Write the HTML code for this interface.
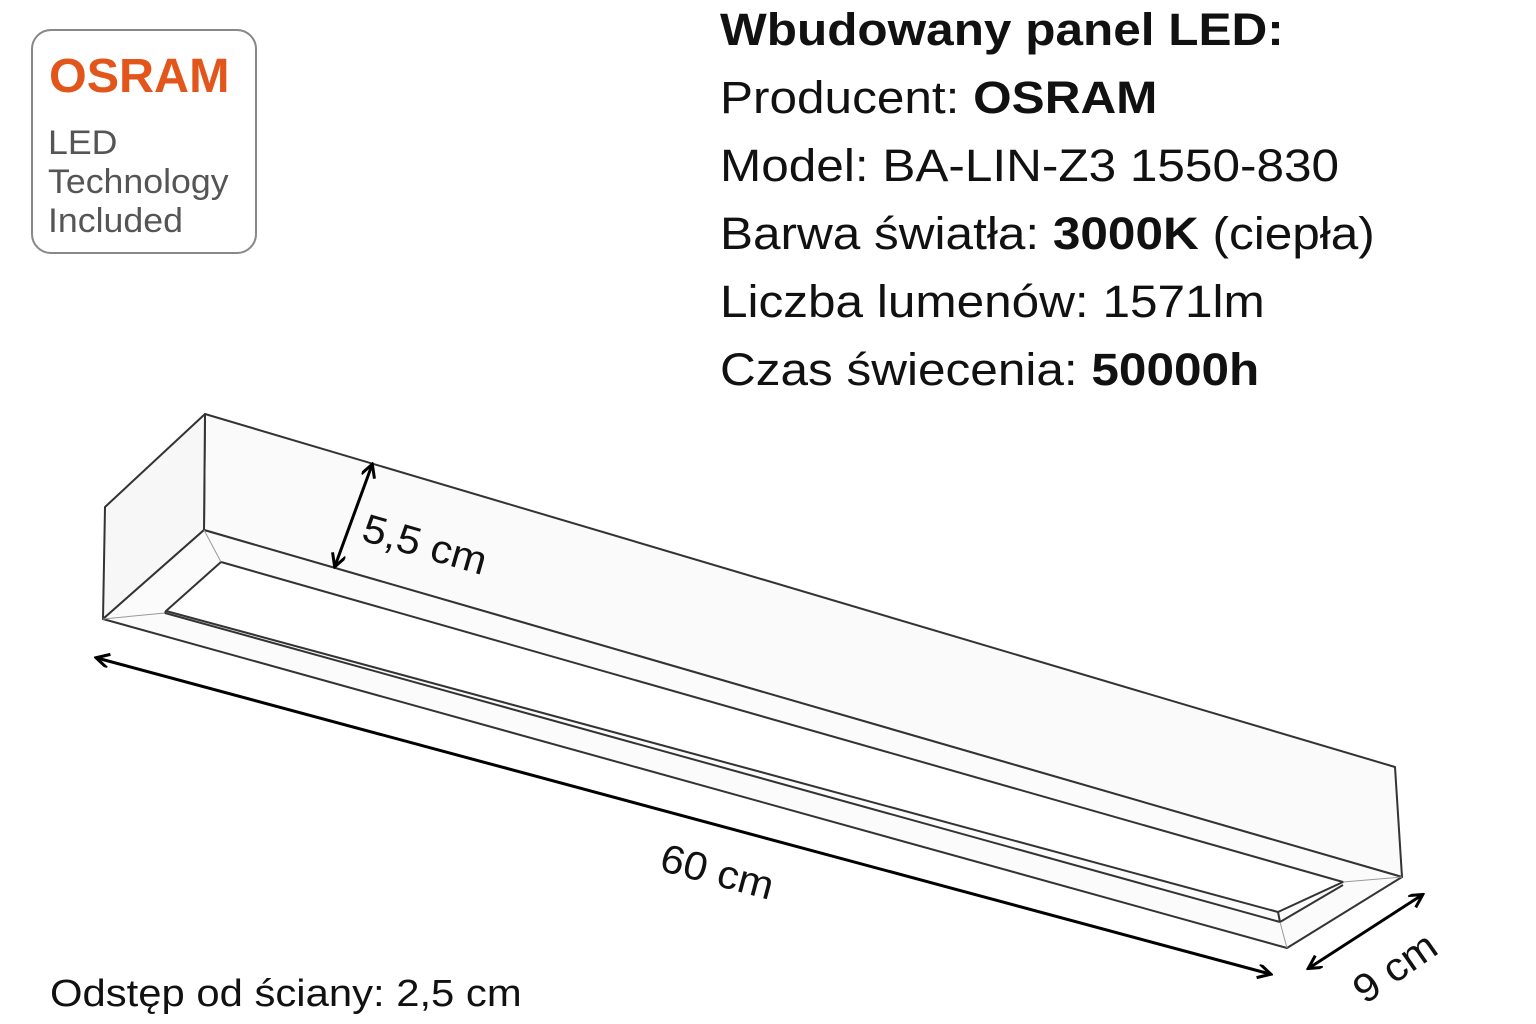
<!DOCTYPE html>
<html><head><meta charset="utf-8"><style>
body{margin:0;width:1536px;height:1024px;background:#fff;overflow:hidden;position:relative;font-family:"Liberation Sans","DejaVu Sans",sans-serif;}
.logo{position:absolute;left:31px;top:29px;width:226px;height:225px;border:2px solid #888;border-radius:20px;box-sizing:border-box;}
.t{position:absolute;white-space:nowrap;transform-origin:0 0;}
</style></head><body>
<div class="logo"></div>
<div class="t" style="left:49px;top:49px;font-size:48px;font-weight:bold;color:#e2561b;transform:scaleX(1.01)">OSRAM</div>
<div class="t" style="left:48px;top:124px;font-size:34px;line-height:39px;color:#555;transform:scaleX(1.05)">LED<br>Technology<br>Included</div>
<div class="t" style="left:720px;top:-4px;font-size:45px;line-height:68px;color:#111;transform:scaleX(1.1)">
<b>Wbudowany panel LED:</b><br>Producent: <b>OSRAM</b><br>Model: BA-LIN-Z3 1550-830<br>Barwa światła: <b>3000K</b> (ciepła)<br>Liczba lumenów: 1571lm<br>Czas świecenia: <b>50000h</b></div>
<div class="t" style="left:50px;top:973px;font-size:38px;color:#111;transform:scaleX(1.1)">Odstęp od ściany: 2,5 cm</div>
<svg width="1536" height="1024" style="position:absolute;left:0;top:0">
<defs><marker id="a" markerWidth="16" markerHeight="16" refX="13" refY="7" orient="auto-start-reverse" markerUnits="userSpaceOnUse"><path d="M1,0 L14,7 L1,14" fill="none" stroke="#000" stroke-width="3"/></marker></defs>
<g fill="none" stroke="#333" stroke-width="2" stroke-linejoin="round">
<polygon points="205,414 1395,767 1402,877 204,530" fill="#fafafa"/>
<polygon points="205,414 105,507 103,619 204,530" fill="#f7f7f7"/>
<polygon points="204,530 1402,877 1287,948 103,619" fill="#fbfbfb"/>
<polygon points="221,562 1343,882 1278,912 166,611" fill="#fff"/>
<polyline points="166,611 165,613 1280,922 1278,912"/>
<line x1="1280" y1="922" x2="1343" y2="885"/>
<line x1="204" y1="530" x2="221" y2="562" stroke="#999" stroke-width="1"/>
<line x1="1402" y1="877" x2="1343" y2="882" stroke="#999" stroke-width="1"/>
<line x1="1287" y1="948" x2="1280" y2="922" stroke="#999" stroke-width="1"/>
<line x1="103" y1="619" x2="165" y2="613" stroke="#999" stroke-width="1"/>
</g>
<g stroke="#000" stroke-width="3" fill="none">
<line x1="372" y1="465" x2="335" y2="566" marker-start="url(#a)" marker-end="url(#a)"/>
<line x1="97" y1="658" x2="1270" y2="974" marker-start="url(#a)" marker-end="url(#a)"/>
<line x1="1309" y1="968" x2="1422" y2="895" marker-start="url(#a)" marker-end="url(#a)"/>
</g>
<g font-family="Liberation Sans, DejaVu Sans, sans-serif" font-size="40" fill="#111">
<text transform="translate(360,540) rotate(16) scale(1.06,1)">5,5 cm</text>
<text transform="translate(658,870) rotate(15) scale(1.06,1)">60 cm</text>
<text transform="translate(1365,1005) rotate(-35) scale(1.06,1)">9 cm</text>
</g>
</svg>
</body></html>
